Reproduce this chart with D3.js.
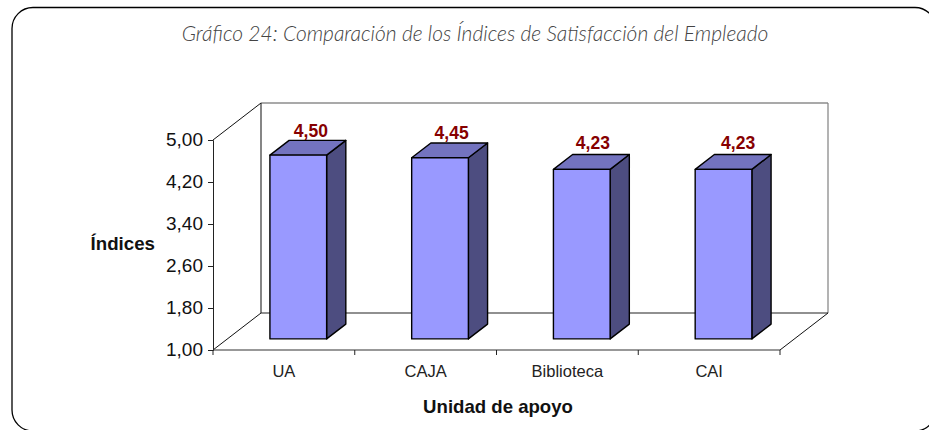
<!DOCTYPE html>
<html>
<head>
<meta charset="utf-8">
<script src="https://cdn.jsdelivr.net/npm/d3@7"></script>
<style>
    html, body { margin: 0; padding: 0; background: #fff; overflow: hidden; }
    svg { display: block; }
    text { font-family: "Liberation Sans", Arial, sans-serif; }
</style>
</head>
<body>
<div id="chart"></div>
<script>
// 3D column chart, drawn by hand with d3 scales

const categories = ["UA", "CAJA", "Biblioteca", "CAI"];
const values = [4.50, 4.45, 4.23, 4.23];
const yTicks = [1.0, 1.8, 2.6, 3.4, 4.2, 5.0];
const chartTitle = "Gráfico 24: Comparación de los Índices de Satisfacción del Empleado";
const yTitle = "Índices";
const xTitle = "Unidad de apoyo";

const width = 929;
const height = 430;

const svg = d3.select("#chart")
    .append("svg")
    .attr("width", width)
    .attr("height", height);

// outer frame runs off the picture on the right
svg.append("rect")
    .attr("x", 12).attr("y", 7.5)
    .attr("width", 924).attr("height", 423.5)
    .attr("rx", 21).attr("ry", 21)
    .attr("fill", "#fff")
    .attr("stroke", "#000")
    .attr("stroke-width", 1.3);

svg.append("text")
    .attr("x", 475)
    .attr("y", 41)
    .attr("text-anchor", "middle")
    .style("font-family", "Lato, sans-serif")
    .style("font-weight", 300)
    .style("font-style", "italic")
    .style("font-size", "21px")
    .style("fill", "#444")
    .text(chartTitle);

const x = d3.scaleBand().domain(categories).range([213, 780]);
const y = d3.scaleLinear().domain([1, 5]).range([350, 140]);

// depth of the box
const depthX = 48;
const depthY = -37;
const bottom = y(1);
const top5 = y(5);

const walls = svg.append("g").attr("fill", "none");

// back wall
walls.append("line")
    .attr("x1", 213 + depthX).attr("x2", 780 + depthX)
    .attr("y1", top5 + depthY).attr("y2", top5 + depthY)
    .attr("stroke", "#555").attr("stroke-width", 1.2);
walls.append("line")
    .attr("x1", 780 + depthX).attr("x2", 780 + depthX)
    .attr("y1", top5 + depthY).attr("y2", bottom + depthY)
    .attr("stroke", "#808080").attr("stroke-width", 1.2);
walls.append("line")
    .attr("x1", 213 + depthX).attr("x2", 213 + depthX)
    .attr("y1", top5 + depthY).attr("y2", bottom + depthY)
    .attr("stroke", "#222").attr("stroke-width", 1.1);
walls.append("line")
    .attr("x1", 213 + depthX).attr("x2", 780 + depthX)
    .attr("y1", bottom + depthY).attr("y2", bottom + depthY)
    .attr("stroke", "#222").attr("stroke-width", 1.1);

// side wall and floor diagonals
walls.append("line")
    .attr("x1", 213).attr("x2", 213 + depthX)
    .attr("y1", top5).attr("y2", top5 + depthY)
    .attr("stroke", "#111").attr("stroke-width", 1);
walls.append("line")
    .attr("x1", 213).attr("x2", 213 + depthX)
    .attr("y1", bottom).attr("y2", bottom + depthY)
    .attr("stroke", "#111").attr("stroke-width", 1);
walls.append("line")
    .attr("x1", 780).attr("x2", 780 + depthX)
    .attr("y1", bottom).attr("y2", bottom + depthY)
    .attr("stroke", "#111").attr("stroke-width", 1);

// axes
const yAxis = d3.axisLeft(y)
    .tickValues(yTicks)
    .tickFormat(d => d3.format(".2f")(d).replace(".", ","))
    .tickSize(5)
    .tickPadding(5);

const yG = svg.append("g")
    .attr("transform", "translate(213,0)")
    .call(yAxis);
yG.selectAll("text")
    .style("font-size", "19px")
    .style("font-family", "'Liberation Sans', Arial, sans-serif")
    .attr("dy", "0.28em")
    .attr("fill", "#111");
yG.selectAll("line, path").attr("stroke", "#222");

const xAxis = d3.axisBottom(x)
    .tickSize(0)
    .tickPadding(15);

const xG = svg.append("g")
    .attr("transform", `translate(0,${bottom})`)
    .call(xAxis);
xG.select("path").remove();
xG.selectAll("text")
    .style("font-size", "16.5px")
    .style("font-family", "'Liberation Sans', Arial, sans-serif")
    .attr("fill", "#222");

svg.append("line")
    .attr("x1", 213).attr("x2", 780)
    .attr("y1", bottom).attr("y2", bottom)
    .attr("stroke", "#333").attr("stroke-width", 1.2);

// category ticks sit on the band edges
svg.selectAll(".band-tick")
    .data(categories.concat(["end"]))
    .enter()
    .append("line")
    .attr("class", "band-tick")
    .attr("x1", (d, i) => x.range()[0] + i * x.step())
    .attr("x2", (d, i) => x.range()[0] + i * x.step())
    .attr("y1", bottom)
    .attr("y2", bottom + 5)
    .attr("stroke", "#222");

// bars, placed part way into the depth of the box
const barInset = 0.3;
const barDepth = 0.4;
const barWidth = x.bandwidth() * 0.4;
const insetX = depthX * barInset;
const insetY = depthY * barInset;
const sideX = depthX * barDepth;
const sideY = depthY * barDepth;

const rows = categories.map((c, i) => ({ name: c, value: values[i] }));

const bars = svg.selectAll(".bar")
    .data(rows)
    .enter()
    .append("g")
    .attr("class", "bar")
    .attr("stroke", "#000")
    .attr("stroke-width", 1.4)
    .attr("stroke-linejoin", "round");

const left = d => x(d.name) + (x.bandwidth() - barWidth) / 2 + insetX;
const right = d => left(d) + barWidth;
const barTop = d => y(d.value) + insetY;
const barBottom = () => bottom + insetY;

bars.append("path")
    .attr("fill", "#4d4d80")
    .attr("d", d => `M${right(d)},${barTop(d)}L${right(d) + sideX},${barTop(d) + sideY}L${right(d) + sideX},${barBottom() + sideY}L${right(d)},${barBottom()}Z`);
bars.append("path")
    .attr("fill", "#7373bf")
    .attr("d", d => `M${left(d)},${barTop(d)}L${left(d) + sideX},${barTop(d) + sideY}L${right(d) + sideX},${barTop(d) + sideY}L${right(d)},${barTop(d)}Z`);
bars.append("rect")
    .attr("fill", "#9999ff")
    .attr("x", left)
    .attr("y", barTop)
    .attr("width", barWidth)
    .attr("height", d => barBottom() - barTop(d));

// the labels don't sit evenly over the bars in the original, nudge them
const labelLift = d3.scaleLinear().domain([4.23, 4.5]).range([6, 3]);
const labelNudge = [3, 2, 1.5, 5];

svg.selectAll(".value-label")
    .data(rows)
    .enter()
    .append("text")
    .attr("class", "value-label")
    .attr("x", (d, i) => left(d) + barWidth / 2 + sideX / 2 + labelNudge[i])
    .attr("y", d => barTop(d) + sideY - labelLift(d.value))
    .attr("text-anchor", "middle")
    .style("font-size", "17.5px")
    .style("font-weight", "bold")
    .style("fill", "#860000")
    .text(d => d3.format(".2f")(d.value).replace(".", ","));

svg.append("text")
    .attr("x", 155)
    .attr("y", 250)
    .attr("text-anchor", "end")
    .style("font-size", "18.7px")
    .style("font-weight", "bold")
    .style("fill", "#111")
    .text(yTitle);

svg.append("text")
    .attr("x", 498)
    .attr("y", 413)
    .attr("text-anchor", "middle")
    .style("font-size", "18.6px")
    .style("font-weight", "bold")
    .style("fill", "#111")
    .text(xTitle);
</script>
</body>
</html>
